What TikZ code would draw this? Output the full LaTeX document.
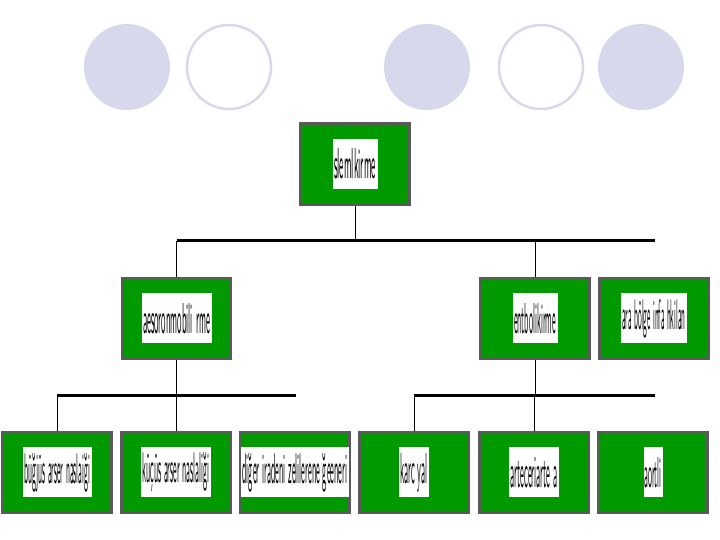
\documentclass[tikz,border=0pt]{standalone}
\usepackage{graphicx}
\usetikzlibrary{positioning}

\definecolor{boxgreen}{RGB}{0,153,0}
\definecolor{rimgray}{RGB}{90,90,90}
\definecolor{lavender}{RGB}{216,216,236}

% squeezed label text
\newcommand{\squeeze}[2]{\resizebox{#1}{30pt}{\sffamily #2}}

\tikzset{
    gbox/.style={draw=rimgray, line width=2.5pt, fill=boxgreen, minimum width=109pt, minimum height=81pt, inner sep=0pt},
    wbox/.style={fill=white, minimum height=50pt, inner sep=0pt},
    bus/.style={line width=3pt},
    drop/.style={line width=0.8pt},
    dot/.style={fill=lavender},
    ring/.style={draw=lavender, line width=2.5pt}
}

\begin{document}
\begin{tikzpicture}[x=1pt, y=1pt]

    \useasboundingbox (0,0) rectangle (720,540);

    % Decorative ovals
    \fill[dot] (127,473) ellipse (43 and 43);
    \draw[ring] (229,473) ellipse (42 and 42);
    \fill[dot] (427,473) ellipse (43 and 43);
    \draw[ring] (541,473) ellipse (42 and 42);
    \fill[dot] (641,473) ellipse (43 and 43);

    % Top box
    \node[gbox] (top) at (355,376) {};
    \node[wbox, minimum width=45pt] (topt) at (top) {\squeeze{42pt}{slemlkirme}};

    % Second row
    \node[gbox] (aes) at (176.5,221.5) {};
    \node[wbox, minimum width=70pt] (aest) at (aes) {\squeeze{67pt}{aesoronmobili rme}};
    \node[gbox] (ent) at (535,221.5) {};
    \node[wbox, minimum width=45pt] (entt) at (ent) {\squeeze{42pt}{entbolikirme}};
    \node[gbox] (ara) at (654,221.5) {};
    \node[wbox, minimum width=66pt] (arat) at (ara) {\squeeze{63pt}{ara bölge infa hkilan}};

    % Bottom row
    \node[gbox] (bug) at (57,67.5) {};
    \node[wbox, minimum width=69pt] (bugt) at (bug) {\squeeze{66pt}{büğjüs arser naslaiği}};
    \node[gbox] (kuc) at (176,67.5) {};
    \node[wbox, minimum width=70pt] (kuct) at (kuc) {\squeeze{67pt}{küçüs arser naslaliği}};
    \node[gbox] (dig) at (295,67.5) {};
    \node[wbox, minimum width=108pt] (digt) at (dig) {\squeeze{105pt}{diğer iradeni zelilerene ğeeneri}};
    \node[gbox] (kar) at (414,67.5) {};
    \node[wbox, minimum width=30pt] (kart) at (kar) {\squeeze{27pt}{karc yal}};
    \node[gbox] (art) at (534,67.5) {};
    \node[wbox, minimum width=50pt] (artt) at (art) {\squeeze{47pt}{arteceriarte a}};
    \node[gbox] (aor) at (653,67.5) {};
    \node[wbox, minimum width=19pt] (aort) at (aor) {\squeeze{17pt}{aortli}};

    % Bus lines
    \coordinate (b1l) at (176.5,299);
    \coordinate (b1r) at (655,299);
    \coordinate (b2l) at (57,144);
    \coordinate (b2r) at (296,144);
    \coordinate (b3l) at (414,144);
    \coordinate (b3r) at (655,144);
    \draw[bus] (b1l) -- (b1r);
    \draw[bus] (b2l) -- (b2r);
    \draw[bus] (b3l) -- (b3r);

    % Drops
    \draw[drop] (top.south) -- (top.south |- b1l);
    \draw[drop] (aes.north) -- (aes.north |- b1l);
    \draw[drop] (ent.north) -- (ent.north |- b1l);

    \draw[drop] (aes.south) -- (aes.south |- b2l);
    \draw[drop] (bug.north) -- (bug.north |- b2l);
    \draw[drop] (kuc.north) -- (kuc.north |- b2l);

    \draw[drop] (ent.south) -- (ent.south |- b3l);
    \draw[drop] (kar.north) -- (kar.north |- b3l);
    \draw[drop] (art.north) -- (art.north |- b3l);

\end{tikzpicture}
\end{document}
